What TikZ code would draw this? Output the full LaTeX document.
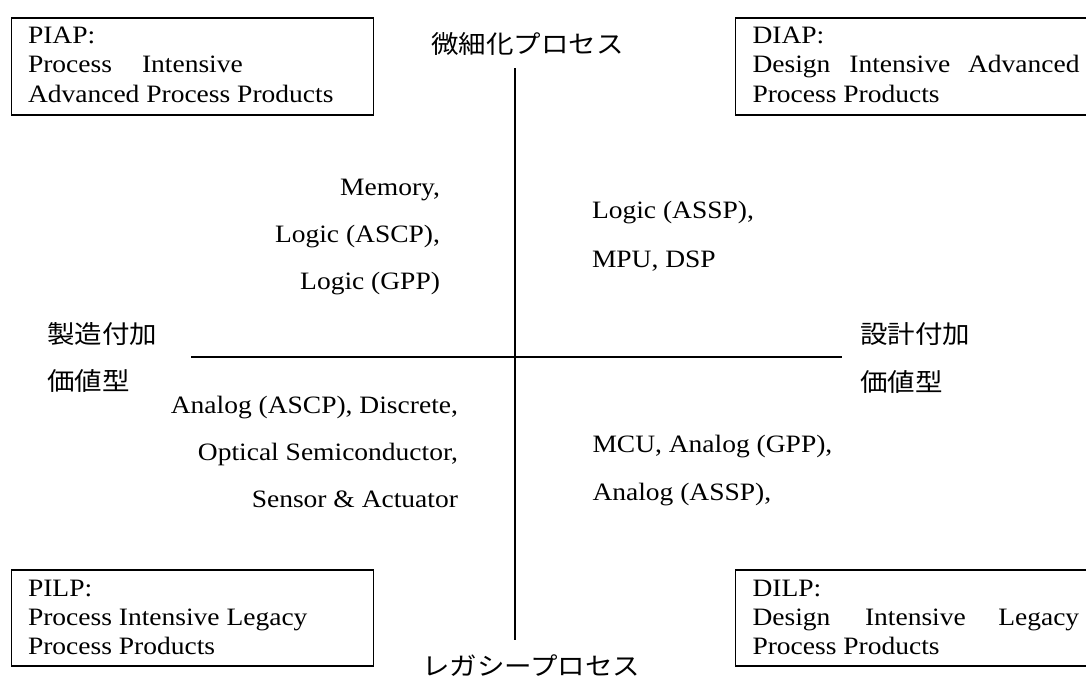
\documentclass[tikz,border=0pt]{standalone}
\usepackage{fontspec}
\setmainfont[FakeStretch=1.1]{Liberation Serif}
\newfontfamily\jpfont[FakeStretch=1.1]{Noto Sans CJK JP}
\begin{document}
\begin{tikzpicture}[x=1pt,y=-1pt,
  txt/.style={inner sep=0pt, outer sep=0pt, font=\fontsize{25}{29}\selectfont},
  jp/.style={inner sep=0pt, outer sep=0pt, font=\fontsize{25}{29}\selectfont\jpfont},
  qbox/.style={draw, line width=1.6pt, inner sep=0pt, anchor=north west, minimum width=362pt, minimum height=97pt},
  rbox/.style={qbox, minimum width=420pt},
  axis/.style={line width=2pt}]
\useasboundingbox (0,0) rectangle (1086,677);
\clip (0,0) rectangle (1086,677);

% boxes
\node[qbox] (piap) at (10.7,17) {};
\node[rbox] (diap) at (734.5,17) {};
\node[qbox, minimum height=96pt] (pilp) at (10.7,569) {};
\node[rbox, minimum height=96pt] (dilp) at (734.5,569) {};

% PIAP text
\node[txt, anchor=base west] (piap1) at (28,44) {PIAP:};
\node[txt, anchor=base west] (piap2a) at (28,73) {Process};
\node[txt, anchor=base west] (piap2b) at (142,73) {Intensive};
\node[txt, anchor=base west] (piap3) at (28,102) {Advanced Process Products};

% DIAP text
\node[txt, anchor=base west] (diap1) at (752.5,44) {DIAP:};
\node[txt, anchor=base west] (diap2a) at (752.5,73) {Design};
\node[txt, anchor=base west] (diap2b) at (849.4,73) {Intensive};
\node[txt, anchor=base west] (diap2c) at (968,73) {Advanced};
\node[txt, anchor=base west] (diap3) at (752.5,102) {Process Products};

% PILP text
\node[txt, anchor=base west] (pilp1) at (28,596) {PILP:};
\node[txt, anchor=base west] (pilp2) at (28,625) {Process Intensive Legacy};
\node[txt, anchor=base west] (pilp3) at (28,654) {Process Products};

% DILP text
\node[txt, anchor=base west] (dilp1) at (752.5,596) {DILP:};
\node[txt, anchor=base west] (dilp2a) at (752.5,625) {Design};
\node[txt, anchor=base west] (dilp2b) at (865,625) {Intensive};
\node[txt, anchor=base west] (dilp2c) at (998.3,625) {Legacy};
\node[txt, anchor=base west] (dilp3) at (752.5,654) {Process Products};

% axes
\coordinate (vtop) at (514.5,68);
\coordinate (vbot) at (514.5,640);
\coordinate (hleft) at (191,357);
\coordinate (hright) at (842,357);
\draw[axis] (vtop) -- (vbot);
\draw[axis] (hleft) -- (hright);

% axis labels
\node[jp, anchor=base west] (ytop) at (431,53) {微細化プロセス};
\node[jp, anchor=base west] (ybot) at (422,675) {レガシープロセス};
\node[jp, anchor=base west] (xl1) at (47,343) {製造付加};
\node[jp, anchor=base west] (xl2) at (47,390) {価値型};
\node[jp, anchor=base west] (xr1) at (860,343) {設計付加};
\node[jp, anchor=base west] (xr2) at (860,391) {価値型};

% quadrant contents
\node[txt, anchor=base east] (ul1) at (440,195) {Memory,};
\node[txt, anchor=base east] (ul2) at (440,242) {Logic (ASCP),};
\node[txt, anchor=base east] (ul3) at (440,289) {Logic (GPP)};

\node[txt, anchor=base west] (ur1) at (592,218) {Logic (ASSP),};
\node[txt, anchor=base west] (ur2) at (592,267) {MPU, DSP};

\node[txt, anchor=base east] (ll1) at (458,413) {Analog (ASCP), Discrete,};
\node[txt, anchor=base east] (ll2) at (458,460) {Optical Semiconductor,};
\node[txt, anchor=base east] (ll3) at (458,507) {Sensor \& Actuator};

\node[txt, anchor=base west] (lr1) at (592.5,452) {MCU, Analog (GPP),};
\node[txt, anchor=base west] (lr2) at (592.5,500) {Analog (ASSP),};
\end{tikzpicture}
\end{document}
